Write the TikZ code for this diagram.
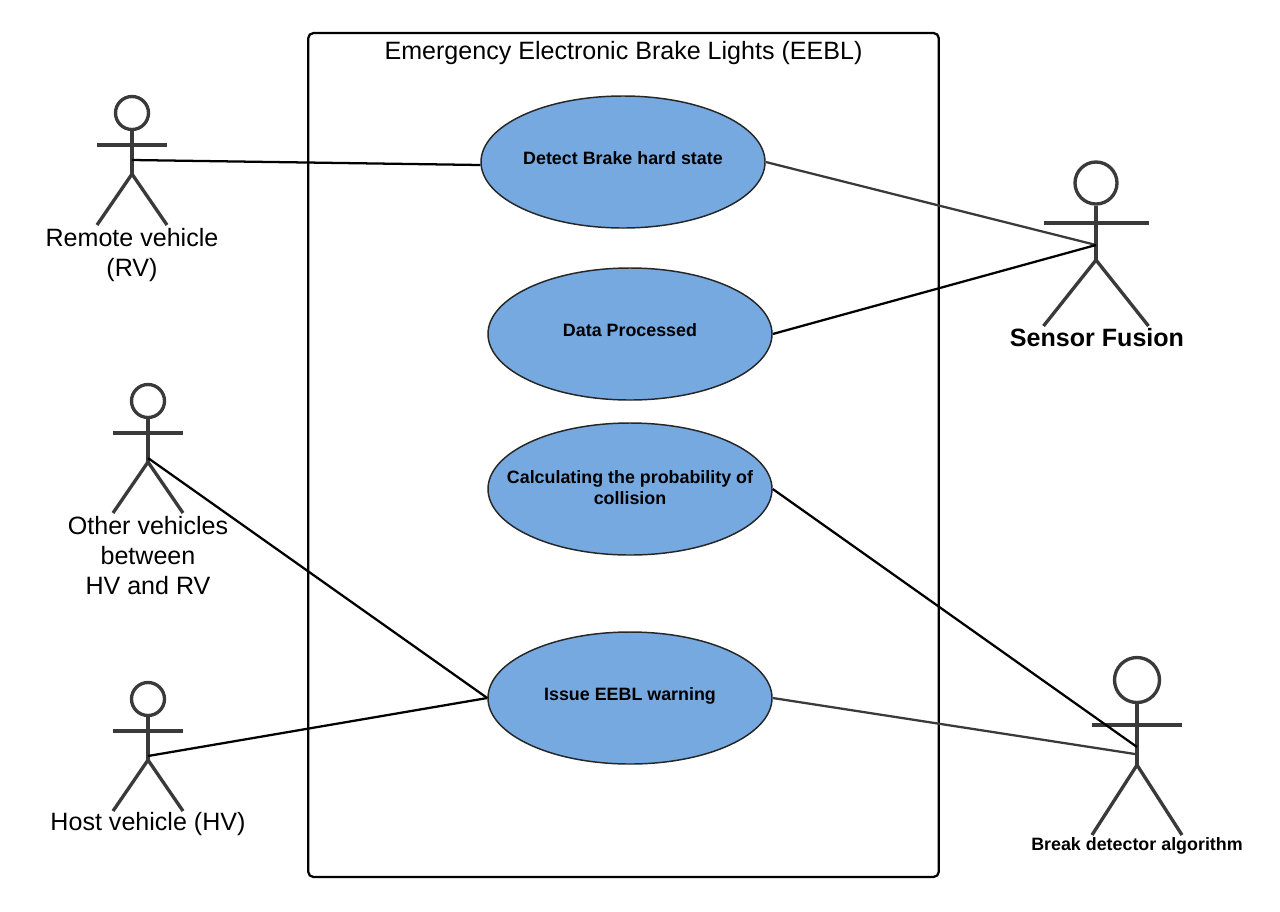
\documentclass[tikz,border=0pt]{standalone}
\usepackage{fontspec}
\setmainfont{Liberation Sans}
\usetikzlibrary{shapes.geometric,calc}
\definecolor{ucblue}{HTML}{75A9E0}
\definecolor{actorgray}{HTML}{3A3A3A}
\tikzset{
  usecase/.style={ellipse,draw=black!85,line width=1.1pt,fill=ucblue,minimum width=213pt,minimum height=99pt,inner sep=0pt,align=center,font=\fontsize{13.4}{16}\selectfont\bfseries},
  actorline/.style={draw=actorgray,line width=2.5pt},
  link/.style={draw=black,line width=1.7pt},
  linkgray/.style={draw=actorgray,line width=1.7pt},
  lbl/.style={align=center,inner sep=0pt,font=\fontsize{18.8}{22.5}\selectfont},
  frameb/.style={draw=black,line width=1.7pt,rounded corners=4pt}
}
\newcommand{\uctext}[2][-2pt]{\raisebox{#1}[0pt][0pt]{\makebox[0pt][c]{\begin{tabular}{@{}c@{}}#2\end{tabular}}}}
\newcommand{\stickman}[8]{% name, x, head y, r, half arm, arm y, hip y, foot y
  \node[circle,actorline,minimum size=#4*1.5pt,inner sep=0pt] (#1head) at (#2,#3) {};
  \coordinate (#1hip) at (#2,#7);
  \coordinate (#1la) at ($(#2,#6)+(-#5,0)$);
  \coordinate (#1ra) at ($(#2,#6)+(#5,0)$);
  \coordinate (#1lf) at ($(#2,#8)+(-#5,0)$);
  \coordinate (#1rf) at ($(#2,#8)+(#5,0)$);
  \draw[actorline] (#1head.south) -- (#1hip);
  \draw[actorline] (#1la) -- (#1ra);
  \draw[actorline] (#1lf) -- (#1hip) -- (#1rf);
}
\begin{document}
\begin{tikzpicture}[x=0.75pt,y=-0.75pt]
\useasboundingbox (0,0) rectangle (1280,911);
\fill[white] (0,0) rectangle (1280,911);
\node[frameb,minimum width=473pt,minimum height=633pt,inner sep=0pt] (sys) at (623.5,455) {};
\node[lbl,anchor=center] (title) at (623.5,53) {Emergency Electronic Brake Lights (EEBL)};

\node[usecase] (e1) at (623,162) {\uctext{Detect Brake hard state}};
\node[usecase] (e2) at (630,334) {\uctext{Data Processed}};
\node[usecase] (e3) at (630,489) {\uctext[-4.2pt]{Calculating the probability of\\collision}};
\node[usecase] (e4) at (630,698) {\uctext{Issue EEBL warning}};

\stickman{a}{132}{113}{16.5}{35}{145}{174}{225}
\stickman{b}{148}{401}{16.5}{35}{433}{462}{513}
\stickman{c}{148}{699}{16.5}{35}{731}{760}{811}
\stickman{d}{1096}{183}{21}{52.5}{223}{260}{326}
\stickman{f}{1137}{680}{22.5}{45}{725}{765}{835}

\coordinate (ap) at (132,160);
\coordinate (bp) at (148,458);
\coordinate (cp) at (148,756);
\coordinate (dp) at (1096,245);
\coordinate (fp1) at (1137,747);
\coordinate (fp2) at (1135,754);

\node[lbl] (la) at (132,255) {Remote vehicle\\(RV)};
\node[lbl] (lb) at (148,556) {Other vehicles\\between\\HV and RV};
\node[lbl] (lc) at (148,824) {Host vehicle (HV)};
\node[lbl,font=\fontsize{18.8}{22}\selectfont\bfseries] (ld) at (1097,338) {Sensor Fusion};
\node[lbl,font=\fontsize{13.4}{16}\selectfont\bfseries] (lf) at (1137,846) {Break detector algorithm};

\draw[link] (ap) -- ($(e1.west)+(0,3)$);
\draw[linkgray] (e1.east) -- (dp);
\draw[link] (e2.east) -- (dp);
\draw[link] (bp) -- (e4.west);
\draw[link] (cp) -- (e4.west);
\draw[link] (e3.east) -- (fp1);
\draw[linkgray] (e4.east) -- (fp2);
\end{tikzpicture}
\end{document}
